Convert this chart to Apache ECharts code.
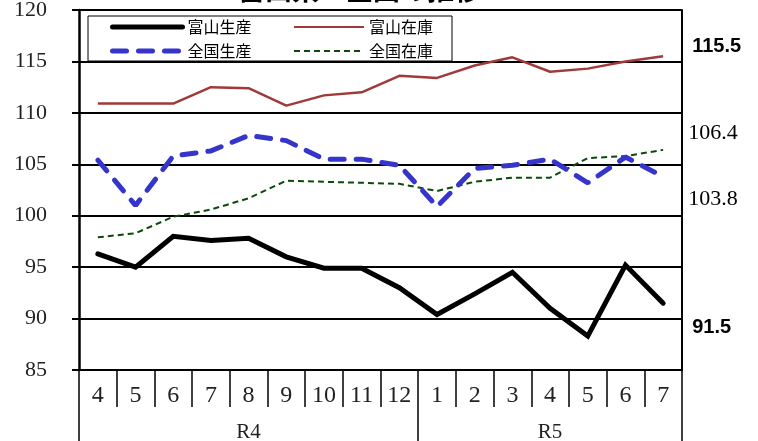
<!DOCTYPE html>
<html>
<head>
<meta charset="utf-8">
<script src="https://cdn.jsdelivr.net/npm/echarts@6/dist/echarts.min.js"></script>
<style>
html,body{margin:0;padding:0;background:#fff;}
#main{width:758px;height:441px;}
</style>
</head>
<body>
<div id="main"></div>
<script>
const months = ['4','5','6','7','8','9','10','11','12','1','2','3','4','5','6','7'];
const yearGroups = ['R4','R5'];
const yearGroupSizes = [9, 7];
const toyamaProd = [96.3, 95.0, 98.0, 97.6, 97.8, 96.0, 94.9, 94.9, 93.0, 90.4, 92.4, 94.5, 91.0, 88.3, 95.2, 91.5];
const toyamaInv  = [110.9, 110.9, 110.9, 112.5, 112.4, 110.7, 111.7, 112.0, 113.6, 113.4, 114.6, 115.4, 114.0, 114.3, 115.0, 115.5];
const zenkokuProd = [105.4, 101.0, 105.8, 106.3, 107.8, 107.3, 105.5, 105.5, 104.9, 100.9, 104.6, 104.9, 105.5, 103.2, 105.7, 103.8];
const zenkokuInv  = [97.9, 98.3, 99.9, 100.6, 101.7, 103.4, 103.3, 103.2, 103.1, 102.4, 103.3, 103.7, 103.7, 105.6, 105.8, 106.4];
const yTicks = [85, 90, 95, 100, 105, 110, 115, 120];

// group boundaries and centers derived from group sizes
const groupBounds = [0];
yearGroupSizes.forEach(s => groupBounds.push(groupBounds[groupBounds.length - 1] + s));
const groupCenters = yearGroupSizes.map((s, i) => groupBounds[i] + s / 2);

const serif = '"Liberation Serif", "DejaVu Serif", serif';
const jp = '"Noto Sans CJK JP", sans-serif';
const boldSans = '"Liberation Sans", Arial, sans-serif';

const chart = echarts.init(document.getElementById('main'), null, {renderer: 'canvas'});

function endLbl(fmt, dx, dy, bold) {
  return {
    show: true,
    distance: 0,
    offset: [dx, dy],
    align: 'left',
    verticalAlign: 'middle',
    formatter: fmt,
    color: '#000',
    fontFamily: bold ? boldSans : serif,
    fontWeight: bold ? 'bold' : 'normal',
    fontSize: bold ? 20 : 22
  };
}

const legendBase = {
  orient: 'vertical',
  top: 19,
  padding: 0,
  itemWidth: 70, itemHeight: 14, itemGap: 8,
  itemStyle: {opacity: 0},
  textStyle: {fontFamily: jp, fontSize: 16, color: '#000', lineHeight: 16},
  z: 60
};

const option = {
  backgroundColor: '#fff',
  animation: false,
  title: {
    text: '富山県・全国の推移',
    left: 233,
    top: -29,
    textStyle: {fontFamily: jp, fontWeight: 'bold', fontSize: 27, color: '#000'}
  },
  grid: {left: 79, right: 76, top: 10, bottom: 71, containLabel: false, outerBoundsMode: 'none'},
  graphic: [{
    type: 'rect',
    shape: {x: 88, y: 16, width: 364, height: 45},
    style: {fill: '#fff', stroke: '#000', lineWidth: 1},
    z: 50
  }],
  legend: [Object.assign({}, legendBase, {
    left: 110,
    lineStyle: {width: 5},
    data: ['富山生産', '全国生産']
  }), Object.assign({}, legendBase, {
    left: 293,
    data: ['富山在庫', '全国在庫']
  })],
  xAxis: [{
    type: 'category',
    data: months,
    boundaryGap: true,
    position: 'bottom',
    axisLine: {show: true, lineStyle: {color: '#000', width: 2}},
    axisTick: {show: true, interval: 0, length: 37, lineStyle: {color: '#000', width: 1.5}},
    axisLabel: {interval: 0, margin: 14, fontFamily: serif, fontSize: 24, color: '#222'},
    splitLine: {show: false}
  }, {
    type: 'value',
    min: 0,
    max: groupBounds[groupBounds.length - 1],
    position: 'bottom',
    offset: 37,
    axisLine: {show: false},
    axisTick: {show: true, customValues: groupBounds, length: 36, lineStyle: {color: '#000', width: 1.5}},
    axisLabel: {
      show: true,
      customValues: groupCenters,
      margin: 15,
      fontFamily: serif, fontSize: 21, color: '#222',
      formatter: v => {
        const i = groupCenters.indexOf(v);
        return i >= 0 ? yearGroups[i] : '';
      }
    },
    splitLine: {show: false}
  }],
  yAxis: [{
    type: 'value',
    min: 85, max: 120, interval: 5,
    position: 'left',
    axisLine: {show: true, lineStyle: {color: '#000', width: 2.5}},
    axisTick: {show: true, length: 7, lineStyle: {color: '#000', width: 2}},
    axisLabel: {margin: 32, fontFamily: serif, fontSize: 22, color: '#222'},
    splitLine: {show: true, lineStyle: {color: '#000', width: 2}}
  }, {
    type: 'value',
    min: 85, max: 120, interval: 5,
    position: 'right',
    axisLine: {show: true, lineStyle: {color: '#000', width: 2}},
    axisTick: {show: false},
    axisLabel: {show: false},
    splitLine: {show: false}
  }],
  series: [{
    name: '富山生産',
    type: 'line',
    data: toyamaProd,
    symbol: 'none',
    lineStyle: {color: '#000', width: 5, cap: 'round', join: 'miter'},
    itemStyle: {color: '#000'},
    endLabel: endLbl(p => String(p.value.toFixed(1)), 29, 24, true),
    z: 5
  }, {
    name: '富山在庫',
    type: 'line',
    data: toyamaInv,
    symbol: 'none',
    lineStyle: {color: '#A03A3A', width: 2.5},
    itemStyle: {color: '#A03A3A'},
    endLabel: endLbl(p => String(p.value.toFixed(1)), 29, -10, true),
    z: 3
  }, {
    name: '全国生産',
    type: 'line',
    data: zenkokuProd,
    symbol: 'none',
    lineStyle: {color: '#3535CC', width: 5, type: [14, 12], cap: 'round'},
    itemStyle: {color: '#3535CC'},
    endLabel: endLbl(p => String(p.value.toFixed(1)), 25, 23, false),
    z: 4
  }, {
    name: '全国在庫',
    type: 'line',
    data: zenkokuInv,
    symbol: 'none',
    lineStyle: {color: '#0B4A0B', width: 2, type: [6, 4]},
    itemStyle: {color: '#0B4A0B'},
    endLabel: endLbl(p => String(p.value.toFixed(1)), 25, -17, false),
    z: 3
  }]
};
chart.setOption(option);
</script>
</body>
</html>
